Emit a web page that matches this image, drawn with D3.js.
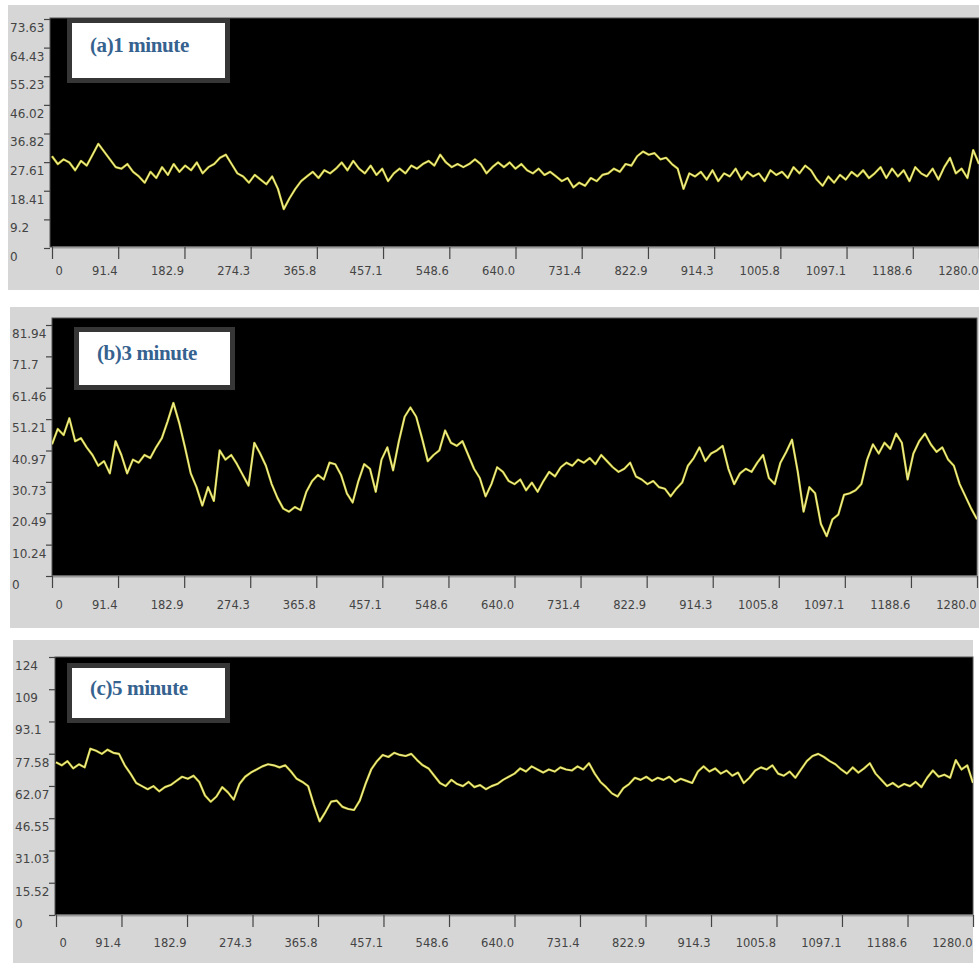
<!DOCTYPE html>
<html>
<head>
<meta charset="utf-8">
<script src="https://cdn.jsdelivr.net/npm/d3@7"></script>
<style>
    body { margin: 0; background: #fff; }
    svg { display: block; }
</style>
</head>
<body>
<svg id="chart" width="979" height="965"></svg>
<script>
// shared time axis
const xTickValues = [0, 91.4, 182.9, 274.3, 365.7, 457.1, 548.6, 640, 731.4, 822.9, 914.3, 1005.7, 1097.1, 1188.6, 1280];
const xTickLabels = ["0", "91.4", "182.9", "274.3", "365.8", "457.1", "548.6", "640.0", "731.4", "822.9", "914.3", "1005.8", "1097.1", "1188.6", "1280.0"];
const xMax = 1280;

// y ticks per panel
const yTicks1 = [0, 9.2, 18.41, 27.61, 36.82, 46.02, 55.23, 64.43, 73.63];
const yLabels1 = ["0", "9.2", "18.41", "27.61", "36.82", "46.02", "55.23", "64.43", "73.63"];
const yTicks3 = [0, 10.24, 20.49, 30.73, 40.97, 51.21, 61.46, 71.7, 81.94];
const yLabels3 = ["0", "10.24", "20.49", "30.73", "40.97", "51.21", "61.46", "71.7", "81.94"];
const yTicks5 = [0, 15.52, 31.03, 46.55, 62.07, 77.58, 93.1, 108.6, 124.1];
const yLabels5 = ["0", "15.52", "31.03", "46.55", "62.07", "77.58", "93.1", "109", "124"];

const titles = ["(a)1 minute", "(b)3 minute", "(c)5 minute"];

// series, sampled evenly over 0..1280
const series1 = [
    29.5, 27, 28.5, 27.5, 25, 28, 26.5, 30, 33.5, 31, 28.5, 26, 25.5, 27, 24.5, 23, 21, 24.5, 22.5, 26,
    23.5, 27, 24.5, 26.5, 25, 27.5, 24, 26, 27, 29, 30, 27, 24, 23, 21, 23.5, 22, 20.5, 23, 19,
    12.5, 16, 19, 21.5, 23, 24.5, 22.5, 25, 24, 25.5, 27.5, 25, 28, 25.5, 24, 26.5, 23.5, 25.5, 21.5, 24,
    25.5, 24, 26.5, 25.5, 27, 28, 26.5, 30, 27.5, 26, 27, 26, 27, 28.5, 27, 24, 26, 27.5, 26, 27.5,
    25.5, 27, 25, 24, 25.5, 23.5, 24.5, 23, 21.5, 22.5, 19.5, 21, 20, 22.5, 21.5, 23.5, 24, 25.5, 24.5, 27,
    26.5, 29.5, 31, 30, 30.5, 28.5, 29, 27, 25.5, 19, 24, 23, 24.5, 22, 25, 21.5, 24, 23, 25.5, 22,
    24.5, 23, 24, 21.5, 25, 23.5, 24.5, 22.5, 26, 24, 26.5, 25, 22, 20, 23, 21, 23.5, 22, 24.5, 23,
    25, 22.5, 24, 26, 22.5, 25.5, 23, 25, 21.5, 26, 24, 23, 25.5, 22, 26, 29, 24, 25.5, 22.5, 31.5,
    27
];
const series3 = [
    43, 48, 46, 51.5, 44, 45, 42, 39.5, 36, 37.5, 33.5, 44, 39.5, 33.5, 38, 37, 39.5, 38.5, 42, 45,
    50.5, 56.5, 50, 42, 33.5, 29, 23, 29, 24.5, 41, 38, 39.5, 36.5, 33, 29.5, 43.5, 40, 36, 30, 25.5,
    22, 21, 22.5, 21.5, 27.5, 31, 33, 31.5, 37, 36.5, 33, 27, 24, 31, 36.5, 35, 27.5, 38, 42, 34.5,
    44, 52, 55, 52, 45, 37.5, 39.5, 41, 47.5, 43.5, 42.5, 44, 39.5, 35, 32, 26, 30, 35.5, 34, 31,
    30, 31.5, 28, 30.5, 27.5, 31, 34, 32.5, 35.5, 37, 36, 38, 37, 38.5, 36.5, 39.5, 37.5, 35.5, 34, 35,
    37, 32.5, 31.5, 30, 31, 29, 28.5, 26, 28.5, 30.5, 36, 38.5, 42, 37.5, 40, 41, 42.5, 35, 30, 33.5,
    35, 34, 37, 39.5, 32, 30, 37, 40.5, 44.5, 34, 21, 29, 27, 17, 13, 18.5, 20, 26.5, 27, 28,
    30, 38, 43, 40, 43.5, 41.5, 46.5, 43.5, 31.5, 40, 44, 46.5, 43, 40.5, 42, 38, 36, 30, 26, 22,
    18.5
];
const series5 = [
    73.5, 72, 74, 70.5, 72.5, 71, 80, 79, 77.5, 79.5, 78, 77.5, 72, 68, 63.5, 62, 60.5, 62, 59.5, 61.5,
    62.5, 64.5, 66.5, 65.5, 67, 64, 57.5, 54.5, 57, 61.5, 59, 55.5, 63, 66.5, 68.5, 70, 71.5, 72.5, 72, 71,
    72, 69, 65.5, 64, 62, 53, 45, 49.5, 54.5, 55, 52, 51, 50.5, 55, 63, 70, 74, 77, 76, 78,
    77, 76.5, 77.5, 74.5, 72, 70.5, 67, 63.5, 62, 65, 63, 62, 64, 61.5, 62.5, 60.5, 62, 63, 65, 66.5,
    68, 70.5, 69, 71.5, 70, 68.5, 70, 69, 71, 70, 69.5, 71.5, 70, 73, 68, 64, 61.5, 58.5, 57, 61,
    63, 66, 65, 66.5, 64.5, 66, 65, 66.5, 64, 65.5, 64.5, 63.5, 69, 71.5, 69, 70.5, 68, 69.5, 67, 68.5,
    63.5, 66, 69.5, 71, 70, 72, 68, 67, 69, 66, 70, 74, 76.5, 77.5, 76, 74, 72.5, 70, 68, 71,
    68.5, 70.5, 73, 68, 65, 62, 63.5, 61.5, 63, 62, 64, 61.5, 66, 69.5, 66.5, 67.5, 66, 74.5, 70, 72,
    63.5
];

const panels = [
    { title: titles[0], values: series1, yTicks: yTicks1, yLabels: yLabels1,
      frame: [8, 5, 979, 290], plot: [50, 18, 979, 247], xr: [52, 979], yr: [248, 19],
      labelX: 10, xLabelDy: 24, box: [67, 18, 163, 65] },
    { title: titles[1], values: series3, yTicks: yTicks3, yLabels: yLabels3,
      frame: [10, 307, 979, 628], plot: [52, 318, 977, 576], xr: [52, 977], yr: [576, 325],
      labelX: 12, xLabelDy: 29, box: [74, 327, 161, 63] },
    { title: titles[2], values: series5, yTicks: yTicks5, yLabels: yLabels5,
      frame: [13, 640, 973, 963], plot: [55, 657, 973, 915], xr: [56, 973], yr: [915, 657],
      labelX: 15, xLabelDy: 28, box: [67, 663, 163, 60] }
];

const svg = d3.select("#chart");

panels.forEach((p, k) => {
    const [fx0, fy0, fx1, fy1] = p.frame;
    const [px0, py0, px1, py1] = p.plot;
    const g = svg.append("g");

    g.append("rect")
        .attr("x", fx0).attr("y", fy0)
        .attr("width", fx1 - fx0).attr("height", fy1 - fy0)
        .attr("fill", "#d6d6d6");

    g.append("rect")
        .attr("x", px0).attr("y", py0)
        .attr("width", px1 - px0).attr("height", py1 - py0)
        .attr("fill", "#000")
        .attr("stroke", "#555")
        .attr("stroke-width", 1);

    const x = d3.scaleLinear().domain([0, xMax]).range(p.xr);
    const y = d3.scaleLinear().domain([0, p.yTicks[p.yTicks.length - 1]]).range(p.yr);
    const step = xMax / (p.values.length - 1);

    g.append("clipPath").attr("id", "clip" + k)
        .append("rect")
        .attr("x", px0).attr("y", py0)
        .attr("width", px1 - px0).attr("height", py1 - py0);

    const line = d3.line()
        .x((d, i) => x(i * step))
        .y(d => y(d));

    // fuzzy yellow trace with a pale core
    g.append("path")
        .datum(p.values)
        .attr("clip-path", `url(#clip${k})`)
        .attr("d", line)
        .attr("fill", "none")
        .attr("stroke", "#d2d038")
        .attr("stroke-width", 2.2)
        .attr("stroke-linejoin", "round");
    g.append("path")
        .datum(p.values)
        .attr("clip-path", `url(#clip${k})`)
        .attr("d", line)
        .attr("fill", "none")
        .attr("stroke", "#f6f3c4")
        .attr("stroke-width", 0.8);

    // x axis
    const xAxis = d3.axisBottom(x)
        .tickValues(xTickValues)
        .tickFormat((d, i) => xTickLabels[i])
        .tickSize(12)
        .tickSizeOuter(0);
    const xg = g.append("g")
        .attr("transform", `translate(0,${py1})`)
        .call(xAxis);
    xg.select(".domain").attr("stroke", "#9a9a9a").attr("stroke-width", 2);
    xg.selectAll(".tick line").attr("stroke", "#444").attr("stroke-width", 1.2);
    xg.selectAll(".tick text")
        .attr("y", p.xLabelDy)
        .attr("dy", "0.35em")
        .attr("x", (d, i) => i === 0 ? 3 : -1)
        .attr("text-anchor", (d, i) => i === 0 ? "start" : "end")
        .attr("fill", "#444")
        .style("font-family", "'DejaVu Sans', sans-serif")
        .style("font-size", "11.5px");

    // y axis
    const yAxis = d3.axisLeft(y)
        .tickValues(p.yTicks)
        .tickFormat((d, i) => p.yLabels[i])
        .tickSize(6)
        .tickSizeOuter(0);
    const yg = g.append("g")
        .attr("transform", `translate(${px0},0)`)
        .call(yAxis);
    yg.select(".domain").remove();
    yg.selectAll(".tick line").attr("stroke", "#444").attr("stroke-width", 1.2);
    yg.selectAll(".tick text")
        .attr("x", p.labelX - px0)
        .attr("dy", 9)
        .attr("text-anchor", "start")
        .attr("dominant-baseline", "middle")
        .attr("fill", "#444")
        .style("font-family", "'DejaVu Sans', sans-serif")
        .style("font-size", "12px");

    // title box
    const [bx, by, bw, bh] = p.box;
    g.append("rect")
        .attr("x", bx + 2.5).attr("y", by + 2.5)
        .attr("width", bw - 5).attr("height", bh - 5)
        .attr("fill", "#fff")
        .attr("stroke", "#363636")
        .attr("stroke-width", 5);
    g.append("text")
        .attr("x", bx + 23)
        .attr("y", by + bh * 0.45)
        .attr("dominant-baseline", "middle")
        .attr("fill", "#36628f")
        .style("font-family", "'Liberation Serif', 'Times New Roman', serif")
        .style("font-weight", "bold")
        .style("font-size", "21px")
        .style("letter-spacing", "-0.4px")
        .text(p.title);
});
</script>
</body>
</html>
